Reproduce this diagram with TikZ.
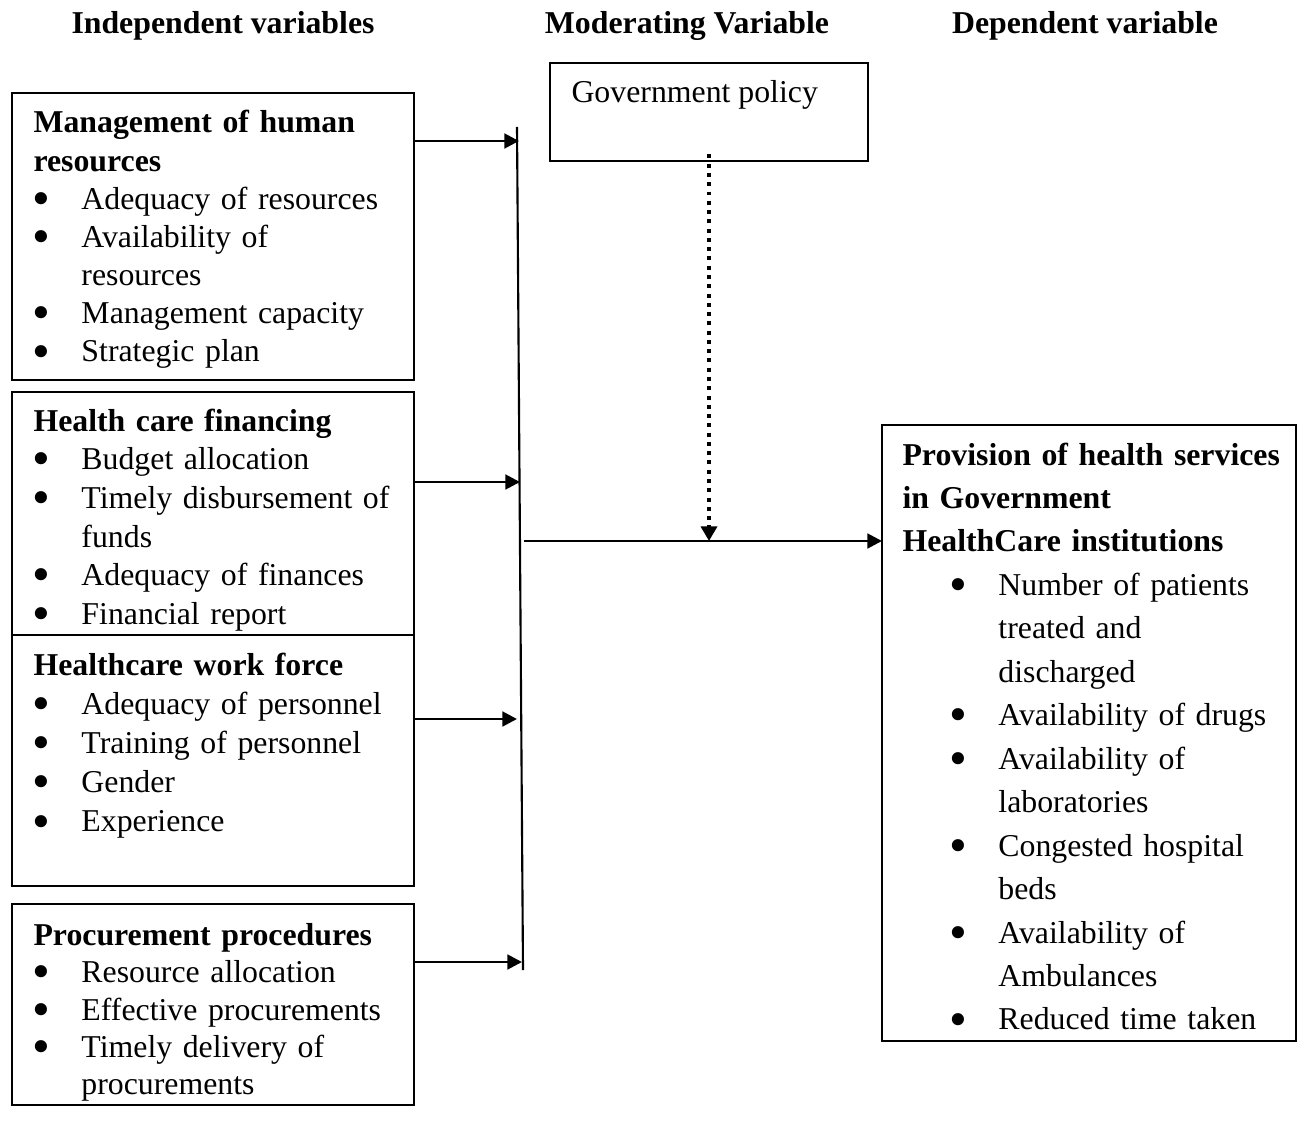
\documentclass[tikz,border=0pt]{standalone}
\usepackage{fontspec}
\setmainfont{Liberation Serif}
\usepackage{graphicx}
\usepackage{tikz}
\usetikzlibrary{arrows.meta,positioning}
\setlength{\parskip}{0pt}
\newlength{\bulpos}
\newlength{\bulind}
\newcommand{\bigbul}{\smash{\raisebox{3.9pt}{\scalebox{1.6}{\raisebox{-3.9pt}{\textbullet}}}}}
\newcommand{\itm}[1]{\noindent\hangindent=\bulind\hangafter=1%
  \makebox[\bulind][l]{\hspace{\bulpos}\makebox[0pt]{\bigbul}}#1\par}

\begin{document}
\begin{tikzpicture}[x=0.3774pt, y=-0.3774pt,
  box/.style={draw, line width=0.75pt, anchor=north west, inner sep=0pt, outer sep=0pt},
  txt/.style={anchor=base west, inner sep=0pt, text width=150pt,
    execute at begin node={\raggedright\setlength{\bulpos}{3pt}\setlength{\bulind}{18.1pt}}},
  title/.style={anchor=base, font=\fontsize{12pt}{14pt}\selectfont\bfseries},
  arr/.style={line width=1.1pt, -{Triangle[length=5.5pt, width=5.5pt]}}]
  \useasboundingbox (0,0) rectangle (1297,1133);

  % Column titles
  \node[title] (indep) at (223,34) {Independent variables};
  \node[title] (moder) at (687,34) {Moderating Variable};
  \node[title] (depen) at (1085,34) {Dependent variable};

  % Independent variable boxes
  \node[box, minimum width=151.7pt, minimum height=108.3pt] (hr) at (12,93) {};
  \node[txt, font=\fontsize{12pt}{14.4pt}\selectfont] (hrtxt) at (33,133)
    {\textbf{Management of human\newline resources}\par
     \itm{Adequacy of resources}
     \itm{Availability of\newline resources}
     \itm{Management capacity}
     \itm{Strategic plan}};

  \node[box, minimum width=151.7pt, minimum height=91.7pt] (fin) at (12,392) {};
  \node[txt, font=\fontsize{12pt}{14.6pt}\selectfont] (fintxt) at (33,431)
    {\textbf{Health care financing}\par
     \itm{Budget allocation}
     \itm{Timely disbursement of\newline funds}
     \itm{Adequacy of finances}
     \itm{Financial report}};

  \node[box, minimum width=151.7pt, minimum height=94.7pt] (wf) at (12,635) {};
  \node[txt, font=\fontsize{12pt}{14.8pt}\selectfont] (wftxt) at (33,675)
    {\textbf{Healthcare work force}\par
     \itm{Adequacy of personnel}
     \itm{Training of personnel}
     \itm{Gender}
     \itm{Experience}};

  \node[box, minimum width=151.7pt, minimum height=76pt] (proc) at (12,904) {};
  \node[txt, font=\fontsize{12pt}{14.15pt}\selectfont] (proctxt) at (33,945)
    {\textbf{Procurement procedures}\par
     \itm{Resource allocation}
     \itm{Effective procurements}
     \itm{Timely delivery of\newline procurements}};

  % Moderating variable
  \node[box, minimum width=120pt, minimum height=37pt] (gov) at (550,63) {};
  \node[anchor=base west, inner sep=0pt, font=\fontsize{12pt}{14pt}\selectfont] (govtxt) at (571,103)
    {Government policy};

  % Dependent variable
  \node[box, minimum width=156.2pt, minimum height=232.5pt] (dep) at (882,425) {};
  \node[txt, font=\fontsize{12pt}{16.4pt}\selectfont, text width=148pt,
    execute at begin node={\setlength{\bulpos}{21pt}\setlength{\bulind}{36.2pt}}]
    (deptxt) at (902,465)
    {\textbf{Provision of health services\newline in Government\newline HealthCare institutions}\par
     \itm{Number of patients\newline treated and\newline discharged}
     \itm{Availability of drugs}
     \itm{Availability of\newline laboratories}
     \itm{Congested hospital\newline beds}
     \itm{Availability of\newline Ambulances}
     \itm{Reduced time taken}};

  % Collecting line and arrows
  \coordinate (vtop) at (517,127);
  \coordinate (vbot) at (523,970);
  \draw[line width=0.8pt] (vtop) -- (vbot);
  \coordinate (j1) at (519,141);
  \coordinate (j2) at (520,482);
  \coordinate (j3) at (517,719);
  \coordinate (j4) at (522,962);
  \draw[arr] (hr.east |- j1) -- (j1);
  \draw[arr] (fin.east |- j2) -- (j2);
  \draw[arr] (wf.east |- j3) -- (j3);
  \draw[arr] (proc.east |- j4) -- (j4);

  % Main arrow to dependent variable
  \coordinate (mstart) at (524,541);
  \coordinate (mmid) at (709,541);
  \draw[arr] (mstart) -- (dep.west |- mstart);

  % Moderating effect (dotted)
  \draw[line width=1.5pt, dash pattern=on 1.5pt off 2pt,
    -{Triangle[length=5.5pt, width=6pt]}]
    ([yshift=2.5pt]mmid |- gov.south) -- (mmid);

\end{tikzpicture}
\end{document}
